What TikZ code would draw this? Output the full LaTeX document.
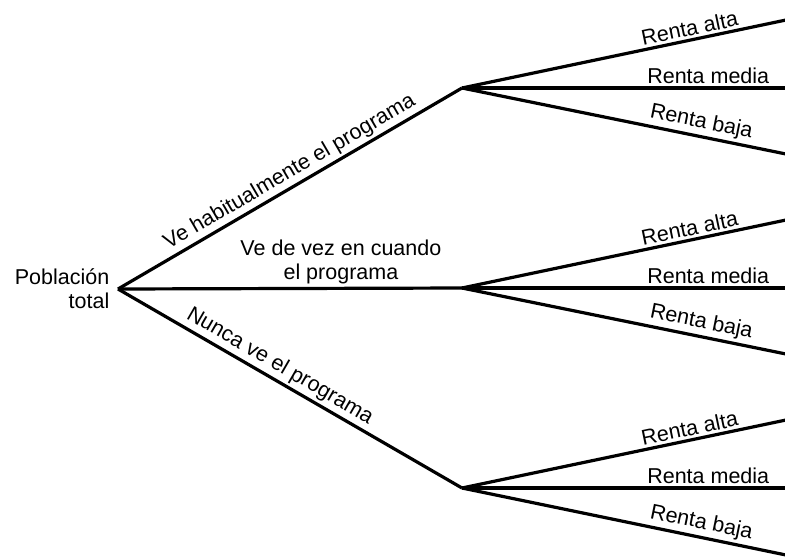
\documentclass[tikz,border=0pt]{standalone}
\usepackage{fontspec}
\setmainfont{Liberation Sans}
\begin{document}
\begin{tikzpicture}[x=1pt,y=-1pt,
  branch/.style={line width=3.2pt},
  lbl/.style={font=\fontsize{21.5}{24}\selectfont, inner sep=2.5pt},
]
\useasboundingbox (0,0) rectangle (785,558);
\coordinate (r) at (118,289);
\coordinate (b1) at (462,88);
\coordinate (b2) at (462,288);
\coordinate (b3) at (462,488);
\coordinate (l11) at (786,20);
\coordinate (l12) at (786,88);
\coordinate (l13) at (786,154);
\coordinate (l21) at (786,220);
\coordinate (l22) at (786,288);
\coordinate (l23) at (786,354);
\coordinate (l31) at (786,420);
\coordinate (l32) at (786,488);
\coordinate (l33) at (786,555);
\node[lbl, anchor=east, align=right] (root) at (112,289) {Población\\total};
\draw[branch] (r) -- node[lbl, sloped, above, pos=0.52] {Ve habitualmente el programa} (b1);
\draw[branch] (r) -- node[lbl, above, align=center, pos=0.648] {Ve de vez en cuando\\el programa} (b2);
\draw[branch] (r) -- node[lbl, sloped, above, pos=0.45] {Nunca ve el programa} (b3);
\foreach \b/\i in {b1/1,b2/2,b3/3}{
  \draw[branch] (\b) -- node[lbl, sloped, above, pos=0.71] {Renta alta} (l\i1);
  \draw[branch] (\b) -- node[lbl, above, pos=0.76] {Renta media} (l\i2);
  \draw[branch] (\b) -- node[lbl, sloped, above, pos=0.73] {Renta baja} (l\i3);
}
\end{tikzpicture}
\end{document}
